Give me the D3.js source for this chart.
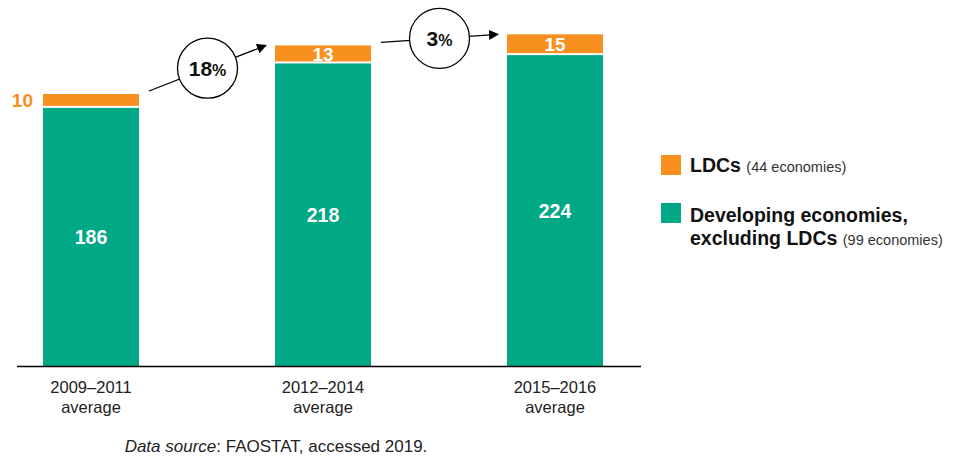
<!DOCTYPE html>
<html lang="en">
<head>
    <meta charset="UTF-8">
    <title>LDCs and developing economies</title>
    <script src="https://d3js.org/d3.v7.min.js"></script>
    <style>
        body { margin: 0; background: #fff; }
        svg { display: block; font-family: "Liberation Sans", Arial, Helvetica, sans-serif; }
    </style>
</head>
<body>
<div id="chart"></div>
<script>
    // Daten
    const periods = ["2009–2011", "2012–2014", "2015–2016"];
    const ldcs = [10, 13, 15];
    const developing = [186, 218, 224];
    const growth = ["18", "3"];
    const colors = { ldc: "#F7901E", dev: "#00A885" };

    const width = 960, height = 459;
    const baseY = 366;

    const svg = d3.select("#chart").append("svg")
        .attr("width", width)
        .attr("height", height);

    const x = d3.scaleBand()
        .domain(periods)
        .range([17, 629])
        .paddingInner(0.586)
        .paddingOuter(0.112);

    const y = d3.scaleLinear()
        .domain([0, 196])
        .range([baseY, 94]);

    const rows = periods.map((p, i) => ({ p, ldc: ldcs[i], dev: developing[i], total: ldcs[i] + developing[i] }));

    // grüne Balken
    svg.selectAll(".dev")
        .data(rows)
        .join("rect")
        .attr("class", "dev")
        .attr("x", d => x(d.p))
        .attr("width", x.bandwidth())
        .attr("y", d => y(d.dev))
        .attr("height", d => y(0) - y(d.dev))
        .attr("fill", colors.dev);

    // orange Balken (mit weißem Spalt)
    svg.selectAll(".ldc")
        .data(rows)
        .join("rect")
        .attr("class", "ldc")
        .attr("x", d => x(d.p))
        .attr("width", x.bandwidth())
        .attr("y", d => y(d.total))
        .attr("height", d => y(d.dev) - y(d.total) - 2)
        .attr("fill", colors.ldc);

    // Achse
    svg.append("line")
        .attr("x1", 17).attr("x2", 641)
        .attr("y1", baseY + 0.5).attr("y2", baseY + 0.5)
        .attr("stroke", "#000").attr("stroke-width", 1.3);

    // Werte in grün
    svg.selectAll(".devLabel")
        .data(rows)
        .join("text")
        .attr("x", d => x(d.p) + x.bandwidth() / 2)
        .attr("y", d => (y(0) + y(d.dev)) / 2 + 7)
        .attr("text-anchor", "middle")
        .attr("fill", "#fff")
        .attr("font-weight", "bold")
        .attr("font-size", 19.5)
        .text(d => d.dev);

    // Werte in orange
    svg.selectAll(".ldcLabel")
        .data(rows)
        .join("text")
        .attr("x", (d, i) => i === 0 ? x(d.p) - 10 : x(d.p) + x.bandwidth() / 2)
        .attr("y", d => (y(d.dev) + y(d.total)) / 2 + 6.5)
        .attr("text-anchor", (d, i) => i === 0 ? "end" : "middle")
        .attr("fill", (d, i) => i === 0 ? colors.ldc : "#fff")
        .attr("font-weight", "bold")
        .attr("font-size", 19)
        .text(d => d.ldc);

    // x-Beschriftung (zwei Zeilen)
    const xLabels = svg.selectAll(".xl")
        .data(rows)
        .join("g")
        .attr("class", "xl")
        .attr("transform", d => `translate(${x(d.p) + x.bandwidth() / 2},0)`);
    xLabels.append("text")
        .attr("y", 393)
        .attr("text-anchor", "middle")
        .attr("fill", "#222")
        .attr("font-size", 16.5)
        .text(d => d.p);
    xLabels.append("text")
        .attr("y", 413)
        .attr("text-anchor", "middle")
        .attr("fill", "#222")
        .attr("font-size", 16.5)
        .text("average");

    // Pfeile mit Wachstumskreisen
    const defs = svg.append("defs");
    defs.append("marker")
        .attr("id", "arrow")
        .attr("viewBox", "0 0 10 10")
        .attr("refX", 9).attr("refY", 5)
        .attr("markerWidth", 10).attr("markerHeight", 10)
        .attr("markerUnits", "userSpaceOnUse")
        .attr("orient", "auto")
        .append("path")
        .attr("d", "M0,0L10,5L0,10Z")
        .attr("fill", "#000");

    growth.forEach((g, i) => {
        const a = rows[i], b = rows[i + 1];
        const x1 = x(a.p) + x.bandwidth() + 10, y1 = y(a.total) - 3;
        const x2 = x(b.p) - 9, y2 = y(b.total);
        svg.append("line")
            .attr("x1", x1).attr("y1", y1)
            .attr("x2", x2).attr("y2", y2)
            .attr("stroke", "#000").attr("stroke-width", 1.3)
            .attr("marker-end", "url(#arrow)");
        const cx = (x1 + x2) / 2, cy = (y1 + y2) / 2;
        svg.append("circle")
            .attr("cx", cx).attr("cy", cy).attr("r", 30)
            .attr("fill", "#fff").attr("stroke", "#000").attr("stroke-width", 1.3);
        const t = svg.append("text")
            .attr("x", cx).attr("y", cy + 7.5)
            .attr("text-anchor", "middle")
            .attr("font-weight", "bold")
            .attr("fill", "#111");
        t.append("tspan").attr("font-size", 21).text(g);
        t.append("tspan").attr("font-size", 16).text("%");
    });

    // Legende
    const legend = svg.append("g").attr("transform", "translate(661,155)");
    legend.append("rect").attr("width", 20).attr("height", 20).attr("fill", colors.ldc);
    const l1 = legend.append("text").attr("x", 29).attr("y", 17).attr("fill", "#111");
    l1.append("tspan").attr("font-weight", "bold").attr("font-size", 19.5).text("LDCs ");
    l1.append("tspan").attr("font-size", 14.5).attr("fill", "#333").text("(44 economies)");

    legend.append("rect").attr("y", 48).attr("width", 20).attr("height", 20).attr("fill", colors.dev);
    const l2 = legend.append("text").attr("fill", "#111").attr("font-size", 19.5);
    l2.append("tspan").attr("x", 29).attr("y", 67).attr("font-weight", "bold").text("Developing economies,");
    l2.append("tspan").attr("x", 29).attr("y", 90).attr("font-weight", "bold").text("excluding LDCs ");
    l2.append("tspan").attr("font-size", 14.5).attr("fill", "#333").text("(99 economies)");

    // Quelle
    const src = svg.append("text")
        .attr("x", 276).attr("y", 452)
        .attr("text-anchor", "middle")
        .attr("font-size", 17)
        .attr("fill", "#222");
    src.append("tspan").attr("font-style", "italic").text("Data source");
    src.append("tspan").text(": FAOSTAT, accessed 2019.");
</script>
</body>
</html>
